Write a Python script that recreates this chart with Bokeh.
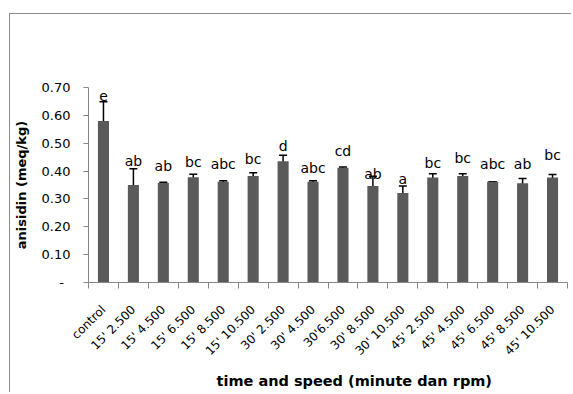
import math
from bokeh.plotting import figure
from bokeh.models import FixedTicker, Whisker, ColumnDataSource, Title, TeeHead, Range1d
from bokeh.core.properties import value
from bokeh.embed import file_html
from bokeh.resources import INLINE

categories = ["control", "15' 2.500", "15' 4.500", "15' 6.500", "15' 8.500", "15' 10.500",
              "30' 2.500", "30' 4.500", "30'6.500", "30' 8.500", "30' 10.500",
              "45' 2.500", "45' 4.500", "45' 6.500", "45' 8.500", "45' 10.500"]
means = [0.580, 0.350, 0.357, 0.378, 0.362, 0.382, 0.435, 0.362, 0.412, 0.346, 0.321,
         0.377, 0.382, 0.362, 0.356, 0.377]
errors = [0.069, 0.058, 0.003, 0.011, 0.003, 0.012, 0.022, 0.003, 0.003, 0.035, 0.025,
          0.013, 0.008, 0.0, 0.017, 0.011]
letters = ["e", "ab", "ab", "bc", "abc", "bc", "d", "abc", "cd", "ab", "a",
           "bc", "bc", "abc", "ab", "bc"]
letter_levels = [0.660, 0.425, 0.407, 0.421, 0.415, 0.433, 0.479, 0.400, 0.461, 0.380, 0.362,
                 0.419, 0.436, 0.415, 0.415, 0.446]
y_ticks = [0.0, 0.1, 0.2, 0.3, 0.4, 0.5, 0.6, 0.7]
y_tick_labels = ["-\u2002", "0.10", "0.20", "0.30", "0.40", "0.50", "0.60", "0.70"]
x_title = "time and speed (minute dan rpm)"
y_title = "anisidin (meq/kg)"

FONT = "DejaVu Sans"
GRAY = "#868686"

n = len(categories)
xs = [i + 0.5 for i in range(n)]

p = figure(width=562, height=379, x_range=Range1d(0, n), y_range=Range1d(0, 0.7),
           output_backend="svg", toolbar_location=None,
           min_border_left=77, min_border_right=5, min_border_top=73, min_border_bottom=110)
p.margin = (13, 0, 0, 9)
p.styles = {"border-top": "1px solid #8c8c8c", "border-left": "1px solid #8c8c8c"}
p.background_fill_color = "white"
p.border_fill_color = "white"
p.outline_line_color = None
p.grid.visible = False

p.vbar(x=xs, top=means, width=0.37, fill_color="#5a5a5a", line_color=None)

src = ColumnDataSource(dict(x=xs,
                            upper=[m + e for m, e in zip(means, errors)],
                            lower=[m - e for m, e in zip(means, errors)]))
w = Whisker(base="x", upper="upper", lower="lower", source=src,
            line_color="black", line_width=1.5,
            upper_head=TeeHead(size=8, line_color="black", line_width=1.5),
            lower_head=TeeHead(size=8, line_color="black", line_width=1.5))
p.add_layout(w)

p.text(x=xs, y=letter_levels, text=letters, text_align="center", text_baseline="alphabetic",
       y_offset=-3, text_font=value(FONT), text_font_size="14px", text_color="black")

# y axis
ya = p.yaxis[0]
ya.ticker = FixedTicker(ticks=y_ticks, minor_ticks=[])
ya.major_label_overrides = {t: l for t, l in zip(y_ticks, y_tick_labels)}
ya.axis_line_color = GRAY
ya.major_tick_line_color = GRAY
ya.major_tick_out = 5
ya.major_tick_in = 0
ya.minor_tick_line_color = None
ya.major_label_text_font = FONT
ya.major_label_text_font_size = "13px"
ya.major_label_text_color = "black"
ya.major_label_standoff = 13
ya.axis_label = y_title
ya.axis_label_text_font = FONT
ya.axis_label_text_font_style = "bold"
ya.axis_label_text_font_size = "13px"
ya.axis_label_text_color = "black"
ya.axis_label_standoff = 10

# x axis
xa = p.xaxis[0]
xa.ticker = FixedTicker(ticks=xs, minor_ticks=list(range(n + 1)))
xa.major_label_overrides = {x: c for x, c in zip(xs, categories)}
xa.axis_line_color = GRAY
xa.major_tick_line_color = None
xa.major_tick_out = 0
xa.major_tick_in = 0
xa.minor_tick_line_color = GRAY
xa.minor_tick_out = 6
xa.minor_tick_in = 0
xa.major_label_orientation = math.pi / 4
xa.major_label_text_font = FONT
xa.major_label_text_font_size = "12px"
xa.major_label_text_color = "black"
xa.major_label_standoff = 19

p.add_layout(Title(text=x_title, align="left", offset=128, text_font=FONT,
                   text_font_style="bold", text_font_size="14.5px", text_color="black",
                   standoff=10), "below")

open("out.html", "w").write(file_html(p, INLINE))
